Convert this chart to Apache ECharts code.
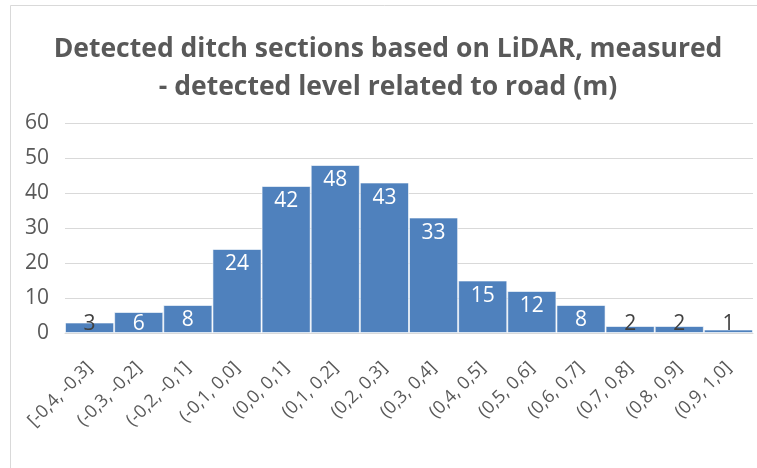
<!DOCTYPE html>
<html>
<head>
<meta charset="utf-8">
<script src="https://cdn.jsdelivr.net/npm/echarts@6/dist/echarts.min.js"></script>
<style>
  html, body { margin: 0; padding: 0; background: #fff; }
  #chart { width: 757px; height: 468px; }
</style>
</head>
<body>
<div id="chart"></div>
<script>
const categories = [
  '[-0,4, -0,3]', '(-0,3, -0,2]', '(-0,2, -0,1]', '(-0,1, 0,0]',
  '(0,0, 0,1]', '(0,1, 0,2]', '(0,2, 0,3]', '(0,3, 0,4]',
  '(0,4, 0,5]', '(0,5, 0,6]', '(0,6, 0,7]', '(0,7, 0,8]',
  '(0,8, 0,9]', '(0,9, 1,0]'
];
const counts = [3, 6, 8, 24, 42, 48, 43, 33, 15, 12, 8, 2, 2, 1];
const yTicks = { min: 0, max: 60, interval: 10 };

const FONT = '"Open Sans", Lato, sans-serif';
const TEXT = '#595959';

// small bars keep their label at the bottom; tiny ones in dark text
const barData = counts.map(v => {
  if (v <= 6) {
    return {
      value: v,
      label: { position: 'insideBottom', distance: -2, color: v < 5 ? '#404040' : '#fff' }
    };
  }
  return v;
});

const chart = echarts.init(document.getElementById('chart'), null, { renderer: 'canvas' });

chart.setOption({
  animation: false,
  graphic: [{
    type: 'rect',
    shape: { x: 10.5, y: 5.5, width: 780, height: 500 },
    style: { fill: 'none', stroke: '#d9d9d9', lineWidth: 1 },
    silent: true
  }],
  title: {
    text: 'Detected ditch sections based on LiDAR, measured\n- detected level related to road (m)',
    left: 383,
    textAlign: 'center',
    top: 25,
    textStyle: {
      fontFamily: FONT,
      fontSize: 26.5,
      fontWeight: 'bold',
      color: TEXT,
      lineHeight: 38
    }
  },
  grid: { left: 65, right: 4, top: 123, bottom: 135 },
  xAxis: {
    type: 'category',
    data: categories,
    axisLine: { show: true, lineStyle: { color: '#d9d9d9', width: 1 } },
    axisTick: { show: false },
    axisLabel: {
      rotate: 45,
      interval: 0,
      margin: 32,
      fontFamily: FONT,
      fontSize: 18,
      color: TEXT
    }
  },
  yAxis: {
    type: 'value',
    min: yTicks.min,
    max: yTicks.max,
    interval: yTicks.interval,
    axisLine: { show: false },
    axisTick: { show: false },
    splitLine: { lineStyle: { color: '#d9d9d9', width: 1 } },
    axisLabel: {
      margin: 16,
      fontFamily: FONT,
      fontSize: 21,
      color: TEXT
    }
  },
  series: [{
    type: 'bar',
    data: barData,
    barCategoryGap: '0%',
    itemStyle: {
      color: '#4F81BD',
      borderColor: 'rgba(255,255,255,0.6)',
      borderWidth: 1
    },
    label: {
      show: true,
      position: 'insideTop',
      distance: 5,
      fontFamily: FONT,
      fontSize: 21,
      color: '#fff'
    }
  }]
});
</script>
</body>
</html>
